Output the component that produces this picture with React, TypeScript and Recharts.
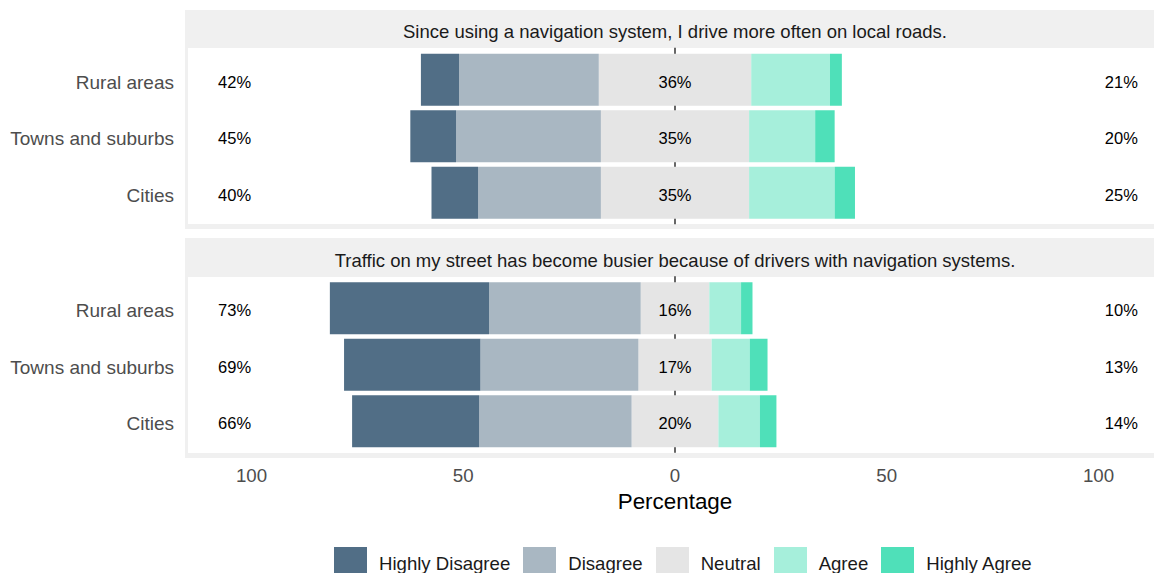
import React from "react";
import { BarChart, Bar, XAxis, YAxis, ReferenceLine, ReferenceDot } from "recharts";

const categories = ["Rural areas", "Towns and suburbs", "Cities"];
const statements = [
  "Since using a navigation system, I drive more often on local roads.",
  "Traffic on my street has become busier because of drivers with navigation systems.",
];
const levels = ["Highly Disagree", "Disagree", "Neutral", "Agree", "Highly Agree"];
const colors = ["#516e86", "#a9b7c2", "#e5e5e5", "#a6efdb", "#4fe0b9"];

// statement 1: local roads
const localHighlyDisagree = [9, 10.8, 11];
const localDisagree = [33, 34.2, 29];
const localNeutral = [36, 35, 35];
const localAgree = [18.6, 15.6, 20.2];
const localHighlyAgree = [2.8, 4.6, 4.8];
const localLowLabels = ["42%", "45%", "40%"];
const localNeutralLabels = ["36%", "35%", "35%"];
const localHighLabels = ["21%", "20%", "25%"];

// statement 2: busier traffic
const trafficHighlyDisagree = [37.6, 32.2, 30];
const trafficDisagree = [35.8, 37.3, 36];
const trafficNeutral = [16.2, 17.3, 20.5];
const trafficAgree = [7.5, 9, 9.8];
const trafficHighlyAgree = [2.7, 4.2, 3.9];
const trafficLowLabels = ["73%", "69%", "66%"];
const trafficNeutralLabels = ["16%", "17%", "20%"];
const trafficHighLabels = ["10%", "13%", "14%"];

const xTicks = [-100, -50, 0, 50, 100];

const FONT = "'Liberation Sans', Arial, sans-serif";
const STRIP = "#f0f0f0";

type Row = {
  cat: string;
  nLow: number;
  dis: number;
  hd: number;
  nHigh: number;
  agree: number;
  ha: number;
};

function buildRows(hd: number[], dis: number[], neu: number[], ag: number[], ha: number[]): Row[] {
  return categories.map((cat, i) => ({
    cat,
    nLow: -neu[i] / 2,
    dis: -dis[i],
    hd: -hd[i],
    nHigh: neu[i] / 2,
    agree: ag[i],
    ha: ha[i],
  }));
}

const localRows = buildRows(localHighlyDisagree, localDisagree, localNeutral, localAgree, localHighlyAgree);
const trafficRows = buildRows(trafficHighlyDisagree, trafficDisagree, trafficNeutral, trafficAgree, trafficHighlyAgree);

function labelProps(value: string) {
  return { value, position: "center" as const, fill: "#000", fontSize: 16.5, fontFamily: FONT, dy: 2 };
}

type PanelProps = {
  rows: Row[];
  low: string[];
  mid: string[];
  high: string[];
  top: number;
  height: number;
  marginTop: number;
  marginBottom: number;
  showAxis: boolean;
};

function Panel({ rows, low, mid, high, top, height, marginTop, marginBottom, showAxis }: PanelProps) {
  const common = {
    width: 1200,
    height,
    data: rows,
    layout: "vertical" as const,
    stackOffset: "sign" as const,
    barSize: 52,
    style: { fontFamily: FONT },
  };
  const xAxisProps = {
    type: "number" as const,
    domain: [-115, 115],
    ticks: xTicks,
    hide: !showAxis,
    height: 40,
    tickLine: false,
    axisLine: false,
    tickSize: 0,
    tickMargin: 19,
  };
  return (
    <>
      {/* zero line drawn underneath the bars, spanning the whole panel */}
      <div style={{ position: "absolute", left: 0, top }}>
        <BarChart {...common} margin={{ top: marginTop - 4, right: 38, bottom: marginBottom - 3, left: 8 }}>
          <XAxis {...xAxisProps} tick={false} />
          <YAxis type="category" dataKey="cat" width={180} tick={false} tickLine={false} axisLine={false} />
          <Bar dataKey="nHigh" fill="none" fillOpacity={0} isAnimationActive={false} />
          <ReferenceLine x={0} stroke="#000" strokeWidth={1.2} />
        </BarChart>
      </div>
      <div style={{ position: "absolute", left: 0, top }}>
        <BarChart {...common} margin={{ top: marginTop, right: 38, bottom: marginBottom, left: 8 }}>
          <XAxis
            {...xAxisProps}
            tick={{ fill: "#4d4d4d", fontSize: 18.7 }}
            tickFormatter={(v: number) => String(Math.abs(v))}
          />
          <YAxis
            type="category"
            dataKey="cat"
            width={180}
            tickLine={false}
            axisLine={false}
            tickSize={0}
            tickMargin={14}
            tick={{ fill: "#4d4d4d", fontSize: 19, dy: 2 }}
          />
          <Bar dataKey="nLow" stackId="s" fill={colors[2]} isAnimationActive={false} />
          <Bar dataKey="dis" stackId="s" fill={colors[1]} isAnimationActive={false} />
          <Bar dataKey="hd" stackId="s" fill={colors[0]} isAnimationActive={false} />
          <Bar dataKey="nHigh" stackId="s" fill={colors[2]} isAnimationActive={false} />
          <Bar dataKey="agree" stackId="s" fill={colors[3]} isAnimationActive={false} />
          <Bar dataKey="ha" stackId="s" fill={colors[4]} isAnimationActive={false} />
          {categories.map((c, i) => (
            <ReferenceDot key={"l" + c} x={-104} y={c} r={0} fill="none" stroke="none" label={labelProps(low[i])} />
          ))}
          {categories.map((c, i) => (
            <ReferenceDot key={"m" + c} x={0} y={c} r={0} fill="none" stroke="none" label={labelProps(mid[i])} />
          ))}
          {categories.map((c, i) => (
            <ReferenceDot key={"h" + c} x={105.4} y={c} r={0} fill="none" stroke="none" label={labelProps(high[i])} />
          ))}
        </BarChart>
      </div>
    </>
  );
}

function Strip({ text, top, height }: { text: string; top: number; height: number }) {
  return (
    <div
      style={{
        position: "absolute",
        left: 185,
        top,
        width: 980,
        height,
        background: STRIP,
        color: "#1a1a1a",
        fontSize: 18.5,
        lineHeight: height + "px",
        textAlign: "center",
        paddingTop: 3,
        boxSizing: "border-box",
      }}
    >
      {text}
    </div>
  );
}

function Frame({ top, height }: { top: number; height: number }) {
  return (
    <div
      style={{
        position: "absolute",
        left: 185,
        top,
        width: 980,
        height,
        borderLeft: `3px solid ${STRIP}`,
        borderRight: `3px solid ${STRIP}`,
        borderBottom: `5px solid ${STRIP}`,
        boxSizing: "border-box",
      }}
    />
  );
}

export default function App() {
  return (
    <div
      style={{
        position: "fixed",
        left: 0,
        top: 0,
        width: 1154,
        height: 573,
        overflow: "hidden",
        background: "#fff",
        fontFamily: FONT,
      }}
    >
      <Strip text={statements[0]} top={10} height={38} />
      <Frame top={48} height={181} />
      <Strip text={statements[1]} top={238} height={39} />
      <Frame top={277} height={181} />

      <Panel
        rows={localRows}
        low={localLowLabels}
        mid={localNeutralLabels}
        high={localHighLabels}
        top={0}
        height={230}
        marginTop={51.75}
        marginBottom={8.75}
        showAxis={false}
      />
      <Panel
        rows={trafficRows}
        low={trafficLowLabels}
        mid={trafficNeutralLabels}
        high={trafficHighLabels}
        top={230}
        height={343}
        marginTop={50.25}
        marginBottom={83.25}
        showAxis={true}
      />

      <div
        style={{
          position: "absolute",
          left: 0,
          width: 1350,
          top: 489,
          textAlign: "center",
          fontSize: 22.4,
          color: "#000",
        }}
      >
        Percentage
      </div>

      <div
        style={{
          position: "absolute",
          left: 334,
          top: 547,
          display: "flex",
          alignItems: "center",
          fontSize: 18.6,
          color: "#1a1a1a",
          whiteSpace: "nowrap",
        }}
      >
        {levels.map((lv, i) => (
          <div key={lv} style={{ display: "flex", alignItems: "center", marginRight: 13 }}>
            <div style={{ width: 33, height: 33, background: colors[i] }} />
            <span style={{ marginLeft: 12 }}>{lv}</span>
          </div>
        ))}
      </div>
    </div>
  );
}
